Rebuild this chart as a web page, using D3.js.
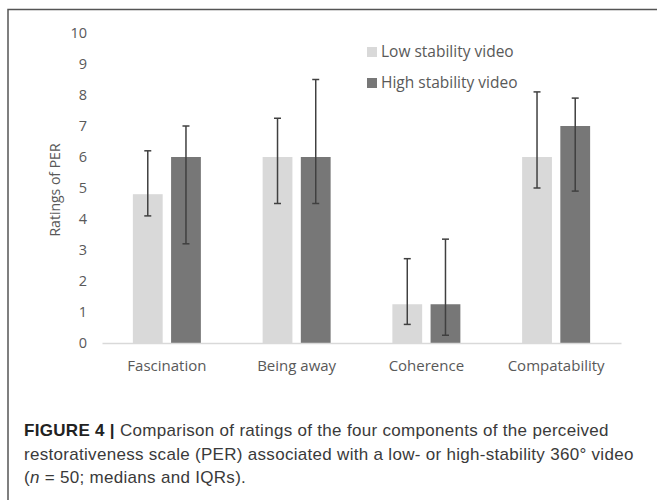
<!DOCTYPE html>
<html>
<head>
    <title>PER ratings by video stability</title>
    <script src="https://d3js.org/d3.v7.min.js"></script>
    <style>
        body { margin: 0; background: #fff; }
        .tick text { font-family: "Open Sans", sans-serif; }
    </style>
</head>
<body>
    <div id="chart"></div>

    <script>
        // Data
        var categories = ['Fascination', 'Being away', 'Coherence', 'Compatability'];
        var seriesNames = ['Low stability video', 'High stability video'];
        var lowMedian = [4.8, 6, 1.25, 6];
        var lowQ1 = [4.1, 4.5, 0.6, 5];
        var lowQ3 = [6.2, 7.25, 2.72, 8.1];
        var highMedian = [6, 6, 1.25, 7];
        var highQ1 = [3.2, 4.5, 0.25, 4.9];
        var highQ3 = [7, 8.5, 3.35, 7.9];
        var yTicks = [0, 1, 2, 3, 4, 5, 6, 7, 8, 9, 10];
        var colors = ['#d9d9d9', '#777777'];

        var W = 657, H = 500;
        var plot = { left: 102, right: 621, top: 33, bottom: 343 };

        var svg = d3.select('#chart')
            .append('svg')
            .attr('width', W)
            .attr('height', H);

        svg.append('rect').attr('width', W).attr('height', H).attr('fill', '#fff');

        // frame (left and top edges show in the crop)
        svg.append('path')
            .attr('d', 'M8,' + H + 'V9.5H' + W)
            .attr('fill', 'none')
            .attr('stroke', '#555')
            .attr('stroke-width', 1.5);

        var x = d3.scaleBand()
            .domain(categories)
            .range([plot.left, plot.right]);

        var xInner = d3.scaleBand()
            .domain(seriesNames)
            .range([x.bandwidth() / 2 - 34, x.bandwidth() / 2 + 34])
            .paddingInner(0.22);

        var y = d3.scaleLinear()
            .domain([0, 10])
            .range([plot.bottom, plot.top]);

        var rows = categories.map(function(c, i) {
            return [
                { cat: c, s: seriesNames[0], v: lowMedian[i], lo: lowQ1[i], hi: lowQ3[i], col: colors[0] },
                { cat: c, s: seriesNames[1], v: highMedian[i], lo: highQ1[i], hi: highQ3[i], col: colors[1] }
            ];
        });
        var flat = d3.merge(rows);

        // y axis (labels only)
        var yAxis = svg.append('g')
            .attr('transform', 'translate(' + plot.left + ',0)')
            .call(d3.axisLeft(y).tickValues(yTicks).tickSize(0).tickPadding(15));
        yAxis.select('.domain').remove();
        yAxis.selectAll('text').attr('fill', '#595959').style('font-size', '14.5px');

        // bars
        svg.selectAll('rect.bar')
            .data(flat)
            .enter()
            .append('rect')
            .attr('class', 'bar')
            .attr('x', function(d) { return x(d.cat) + xInner(d.s); })
            .attr('y', function(d) { return y(d.v); })
            .attr('width', xInner.bandwidth())
            .attr('height', function(d) { return y(0) - y(d.v); })
            .attr('fill', function(d) { return d.col; });

        // x axis baseline + labels
        var xAxis = svg.append('g')
            .attr('transform', 'translate(0,' + plot.bottom + ')')
            .call(d3.axisBottom(x).tickSize(0).tickPadding(17));
        xAxis.select('.domain').attr('stroke', '#d9d9d9').attr('stroke-width', 1.5);
        xAxis.selectAll('text').attr('fill', '#595959').style('font-size', '15px');

        // IQR error bars
        var err = svg.selectAll('g.err')
            .data(flat)
            .enter()
            .append('g')
            .attr('class', 'err')
            .attr('stroke', '#404040')
            .attr('stroke-width', 1.5);
        var cx = function(d) { return x(d.cat) + xInner(d.s) + xInner.bandwidth() / 2; };
        err.append('line')
            .attr('x1', cx).attr('x2', cx)
            .attr('y1', function(d) { return y(d.lo); })
            .attr('y2', function(d) { return y(d.hi); });
        [['lo'], ['hi']].forEach(function(k) {
            err.append('line')
                .attr('x1', function(d) { return cx(d) - 3.5; })
                .attr('x2', function(d) { return cx(d) + 3.5; })
                .attr('y1', function(d) { return y(d[k[0]]); })
                .attr('y2', function(d) { return y(d[k[0]]); });
        });

        // y title
        svg.append('text')
            .attr('transform', 'translate(60,' + 190 + ') rotate(-90)')
            .attr('text-anchor', 'middle')
            .attr('fill', '#595959')
            .style('font-family', '"Open Sans", sans-serif')
            .style('font-size', '14px')
            .text('Ratings of PER');

        // legend
        var legend = svg.selectAll('g.legend')
            .data(seriesNames)
            .enter()
            .append('g')
            .attr('class', 'legend')
            .attr('transform', function(d, i) { return 'translate(367,' + (52 + i * 31) + ')'; });
        legend.append('rect')
            .attr('x', 0).attr('y', -5)
            .attr('width', 10).attr('height', 10)
            .attr('fill', function(d, i) { return colors[i]; });
        legend.append('text')
            .attr('x', 14)
            .attr('dy', '0.35em')
            .attr('fill', '#595959')
            .style('font-family', '"Open Sans", sans-serif')
            .style('font-size', '15.5px')
            .text(function(d) { return d; });

        // caption
        var cap = svg.append('text')
            .attr('fill', '#3a3a3a')
            .style('font-family', '"Liberation Sans", Arial, sans-serif')
            .style('font-size', '17px')
            .style('letter-spacing', '0.3px');
        var l1 = cap.append('tspan').attr('x', 24).attr('y', 436);
        l1.append('tspan').attr('font-weight', 'bold').attr('fill', '#222').text('FIGURE 4 | ');
        l1.append('tspan').text('Comparison of ratings of the four components of the perceived');
        cap.append('tspan').attr('x', 24).attr('y', 460)
            .text('restorativeness scale (PER) associated with a low- or high-stability 360\u00b0 video');
        var l3 = cap.append('tspan').attr('x', 24).attr('y', 483);
        l3.append('tspan').text('(');
        l3.append('tspan').attr('font-style', 'italic').text('n');
        l3.append('tspan').text(' = 50; medians and IQRs).');
    </script>
</body>
</html>
